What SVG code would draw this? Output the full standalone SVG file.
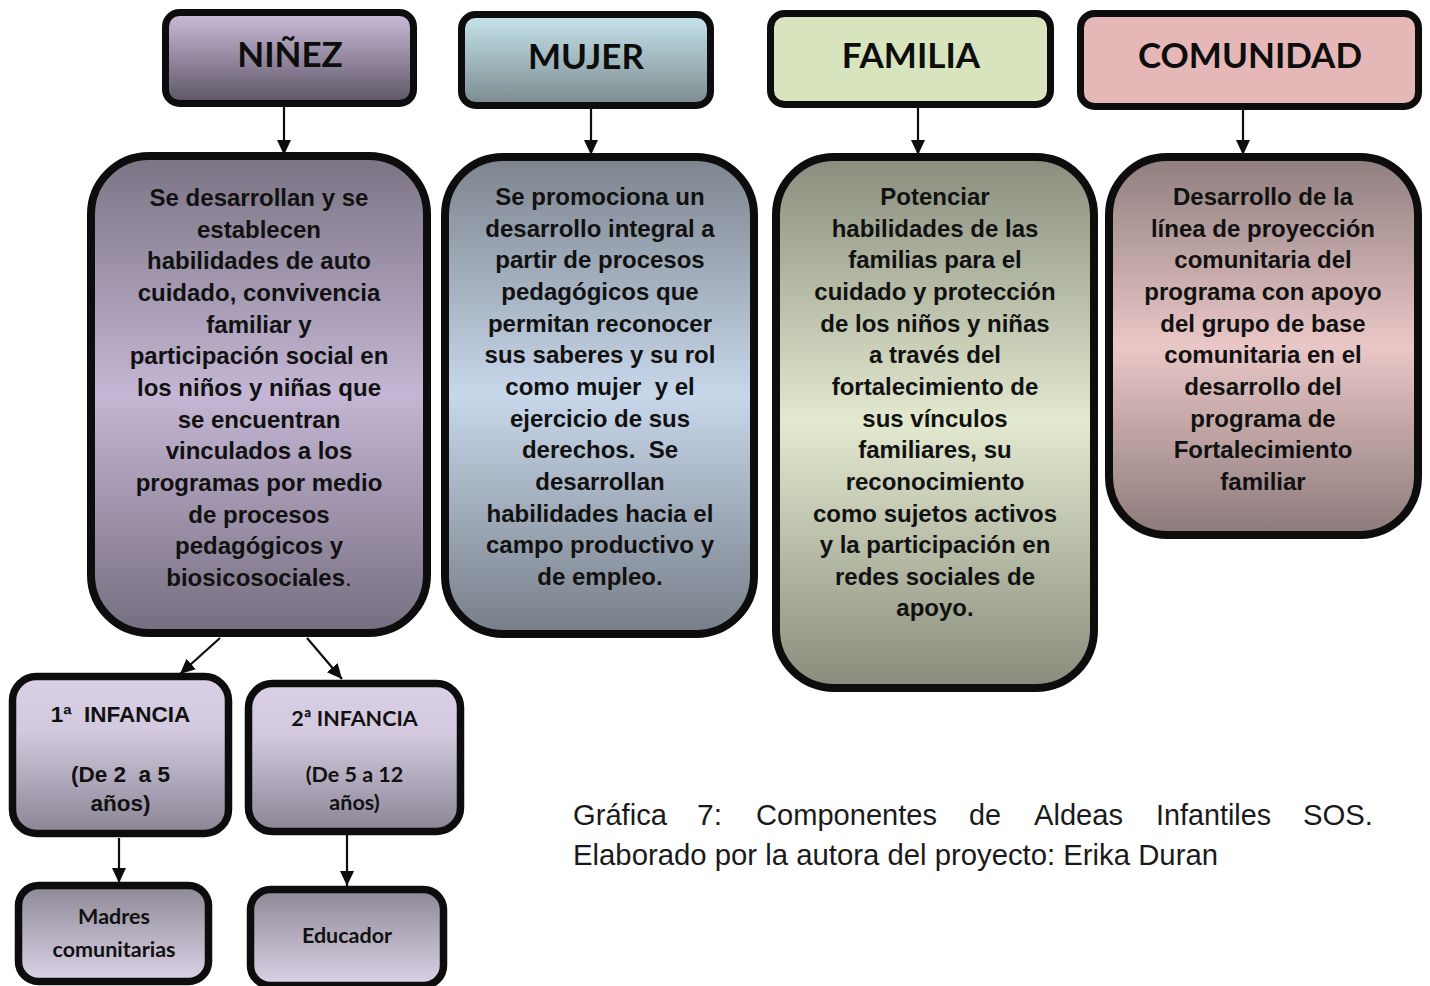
<svg xmlns="http://www.w3.org/2000/svg" width="1430" height="986" viewBox="0 0 1430 986">
<style>
.box{stroke:#0d0d0d;}
.hd{stroke-width:7;}
.bd{stroke-width:8;}
.sm{stroke-width:7.5;}
.ht{font-family:Lato,"Liberation Sans",sans-serif;font-weight:700;font-size:35px;fill:#0d0d0d;text-anchor:middle;}
.bt{font-family:"Liberation Sans",Arial,sans-serif;font-weight:700;font-size:24px;fill:#111;text-anchor:middle;}
.st{font-family:"Liberation Sans",Arial,sans-serif;font-weight:700;font-size:22.5px;fill:#111;text-anchor:middle;}
.ct{font-family:Lato,"Liberation Sans",sans-serif;font-weight:700;font-size:21.5px;fill:#111;text-anchor:middle;}
.cap{font-family:"Liberation Sans",Arial,sans-serif;font-size:29.5px;fill:#1a1a1a;}
.conn line{stroke:#0d0d0d;stroke-width:2.2;marker-end:url(#ah);}
</style>
<defs>
<marker id="ah" markerUnits="userSpaceOnUse" markerWidth="16" markerHeight="16" viewBox="0 0 16 16" refX="15" refY="8" orient="auto">
<path d="M0,1 L15,8 L0,15 Z" fill="#0d0d0d"/>
</marker>
<linearGradient id="gNh" x1="0" y1="0" x2="0" y2="1"><stop offset="0" stop-color="#ccbdda"/><stop offset="1" stop-color="#5c5464"/></linearGradient>
<linearGradient id="gMh" x1="0" y1="0" x2="0" y2="1"><stop offset="0" stop-color="#c7e5ee"/><stop offset="1" stop-color="#7b8a8e"/></linearGradient>
<linearGradient id="gNb" x1="0" y1="0" x2="0" y2="1"><stop offset="0" stop-color="#7b7484"/><stop offset="0.5" stop-color="#c4b6d4"/><stop offset="1" stop-color="#766e80"/></linearGradient>
<linearGradient id="gMb" x1="0" y1="0" x2="0" y2="1"><stop offset="0" stop-color="#7d848e"/><stop offset="0.5" stop-color="#c7d7ea"/><stop offset="1" stop-color="#777e88"/></linearGradient>
<linearGradient id="gFb" x1="0" y1="0" x2="0" y2="1"><stop offset="0" stop-color="#898d7d"/><stop offset="0.5" stop-color="#e3e9cf"/><stop offset="1" stop-color="#888c7c"/></linearGradient>
<linearGradient id="gCb" x1="0" y1="0" x2="0" y2="1"><stop offset="0" stop-color="#8f7e7e"/><stop offset="0.5" stop-color="#eac7c7"/><stop offset="1" stop-color="#8c7a7a"/></linearGradient>
<linearGradient id="gSu" x1="0" y1="0" x2="0" y2="1"><stop offset="0" stop-color="#d9d0e5"/><stop offset="0.35" stop-color="#d2c9de"/><stop offset="1" stop-color="#8a8494"/></linearGradient>
<linearGradient id="gSl" x1="0" y1="0" x2="0" y2="1"><stop offset="0" stop-color="#8d8896"/><stop offset="1" stop-color="#dcd3e6"/></linearGradient>
</defs>

<g id="conectores" class="conn">
<line x1="284" y1="107" x2="284" y2="155"/>
<line x1="591" y1="109" x2="591" y2="155"/>
<line x1="918" y1="108" x2="918" y2="155"/>
<line x1="1243" y1="110" x2="1243" y2="155"/>
<line x1="220" y1="638" x2="180" y2="674"/>
<line x1="307" y1="638" x2="342" y2="679"/>
<line x1="119" y1="838" x2="119" y2="883"/>
<line x1="347" y1="835" x2="347" y2="886"/>
</g>

<g id="ninez">
<rect class="box hd" x="165.5" y="12.5" width="248" height="91" rx="14" fill="url(#gNh)"/>
<text class="ht" x="290" y="67">NIÑEZ</text>
</g>
<g id="mujer">
<rect class="box hd" x="461.5" y="14.5" width="249" height="91" rx="14" fill="url(#gMh)"/>
<text class="ht" x="586" y="69">MUJER</text>
</g>
<g id="familia">
<rect class="box hd" x="770.5" y="13.5" width="280" height="91" rx="14" fill="#d7e4bd"/>
<text class="ht" x="911" y="68">FAMILIA</text>
</g>
<g id="comunidad">
<rect class="box hd" x="1080.5" y="13.5" width="338" height="93" rx="14" fill="#e5b8b7"/>
<text class="ht" x="1250" y="68">COMUNIDAD</text>
</g>

<g id="ninez-desc">
<rect class="box bd" x="91" y="156" width="336" height="477" rx="58" fill="url(#gNb)"/>
<text class="bt" x="259" y="206">Se desarrollan y se</text>
<text class="bt" x="259" y="237.6">establecen</text>
<text class="bt" x="259" y="269.3">habilidades de auto</text>
<text class="bt" x="259" y="300.9">cuidado, convivencia</text>
<text class="bt" x="259" y="332.6">familiar y</text>
<text class="bt" x="259" y="364.2">participación social en</text>
<text class="bt" x="259" y="395.9">los niños y niñas que</text>
<text class="bt" x="259" y="427.5">se encuentran</text>
<text class="bt" x="259" y="459.2">vinculados a los</text>
<text class="bt" x="259" y="490.8">programas por medio</text>
<text class="bt" x="259" y="522.5">de procesos</text>
<text class="bt" x="259" y="554.1">pedagógicos y</text>
<text class="bt" x="259" y="585.8">biosicosociales<tspan font-weight="400">.</tspan></text>
</g>

<g id="mujer-desc">
<rect class="box bd" x="445" y="157" width="309" height="477" rx="58" fill="url(#gMb)"/>
<text class="bt" x="600" y="205">Se promociona un</text>
<text class="bt" x="600" y="236.6">desarrollo integral a</text>
<text class="bt" x="600" y="268.3">partir de procesos</text>
<text class="bt" x="600" y="299.9">pedagógicos que</text>
<text class="bt" x="600" y="331.6">permitan reconocer</text>
<text class="bt" x="600" y="363.2">sus saberes y su rol</text>
<text class="bt" x="600" y="394.9" xml:space="preserve">como mujer  y el</text>
<text class="bt" x="600" y="426.5">ejercicio de sus</text>
<text class="bt" x="600" y="458.2" xml:space="preserve">derechos.  Se</text>
<text class="bt" x="600" y="489.8">desarrollan</text>
<text class="bt" x="600" y="521.5">habilidades hacia el</text>
<text class="bt" x="600" y="553.1">campo productivo y</text>
<text class="bt" x="600" y="584.8">de empleo.</text>
</g>

<g id="familia-desc">
<rect class="box bd" x="776" y="157" width="318" height="531" rx="58" fill="url(#gFb)"/>
<text class="bt" x="935" y="205">Potenciar</text>
<text class="bt" x="935" y="236.6">habilidades de las</text>
<text class="bt" x="935" y="268.3">familias para el</text>
<text class="bt" x="935" y="299.9">cuidado y protección</text>
<text class="bt" x="935" y="331.6">de los niños y niñas</text>
<text class="bt" x="935" y="363.2">a través del</text>
<text class="bt" x="935" y="394.9">fortalecimiento de</text>
<text class="bt" x="935" y="426.5">sus vínculos</text>
<text class="bt" x="935" y="458.2">familiares, su</text>
<text class="bt" x="935" y="489.8">reconocimiento</text>
<text class="bt" x="935" y="521.5">como sujetos activos</text>
<text class="bt" x="935" y="553.1">y la participación en</text>
<text class="bt" x="935" y="584.8">redes sociales de</text>
<text class="bt" x="935" y="616.4">apoyo.</text>
</g>

<g id="comunidad-desc">
<rect class="box bd" x="1109" y="157" width="309" height="378" rx="58" fill="url(#gCb)"/>
<text class="bt" x="1263" y="205">Desarrollo de la</text>
<text class="bt" x="1263" y="236.6">línea de proyección</text>
<text class="bt" x="1263" y="268.3">comunitaria del</text>
<text class="bt" x="1263" y="299.9">programa con apoyo</text>
<text class="bt" x="1263" y="331.6">del grupo de base</text>
<text class="bt" x="1263" y="363.2">comunitaria en el</text>
<text class="bt" x="1263" y="394.9">desarrollo del</text>
<text class="bt" x="1263" y="426.5">programa de</text>
<text class="bt" x="1263" y="458.2">Fortalecimiento</text>
<text class="bt" x="1263" y="489.8">familiar</text>
</g>

<g id="primera-infancia">
<rect class="box sm" x="12.5" y="676.5" width="216" height="157" rx="24" fill="url(#gSu)"/>
<text class="st" x="120.5" y="722" xml:space="preserve">1ª  INFANCIA</text>
<text class="st" x="120.5" y="782" xml:space="preserve">(De 2  a 5</text>
<text class="st" x="120.5" y="811">años)</text>
</g>
<g id="segunda-infancia">
<rect class="box sm" x="248.5" y="683.5" width="212" height="148" rx="24" fill="url(#gSu)"/>
<text class="ct" x="354.5" y="726">2ª INFANCIA</text>
<text class="ct" x="354.5" y="782">(De 5 a 12</text>
<text class="ct" x="354.5" y="810">años)</text>
</g>
<g id="madres">
<rect class="box sm" x="18.5" y="885.5" width="190" height="96" rx="20" fill="url(#gSl)"/>
<text class="ct" x="114" y="924">Madres</text>
<text class="ct" x="114" y="957">comunitarias</text>
</g>
<g id="educador">
<rect class="box sm" x="250.5" y="889.5" width="193" height="96" rx="20" fill="url(#gSl)"/>
<text class="ct" x="347" y="943">Educador</text>
</g>

<g id="caption" class="cap">
<text x="573" y="825" textLength="94" lengthAdjust="spacingAndGlyphs">Gráfica</text>
<text x="697" y="825" textLength="25" lengthAdjust="spacingAndGlyphs">7:</text>
<text x="756" y="825" textLength="181" lengthAdjust="spacingAndGlyphs">Componentes</text>
<text x="969" y="825" textLength="32" lengthAdjust="spacingAndGlyphs">de</text>
<text x="1034" y="825" textLength="89" lengthAdjust="spacingAndGlyphs">Aldeas</text>
<text x="1156" y="825" textLength="115" lengthAdjust="spacingAndGlyphs">Infantiles</text>
<text x="1303" y="825" textLength="70" lengthAdjust="spacingAndGlyphs">SOS.</text>
<text x="573" y="865" textLength="645" lengthAdjust="spacingAndGlyphs">Elaborado por la autora del proyecto: Erika Duran</text>
</g>
</svg>
